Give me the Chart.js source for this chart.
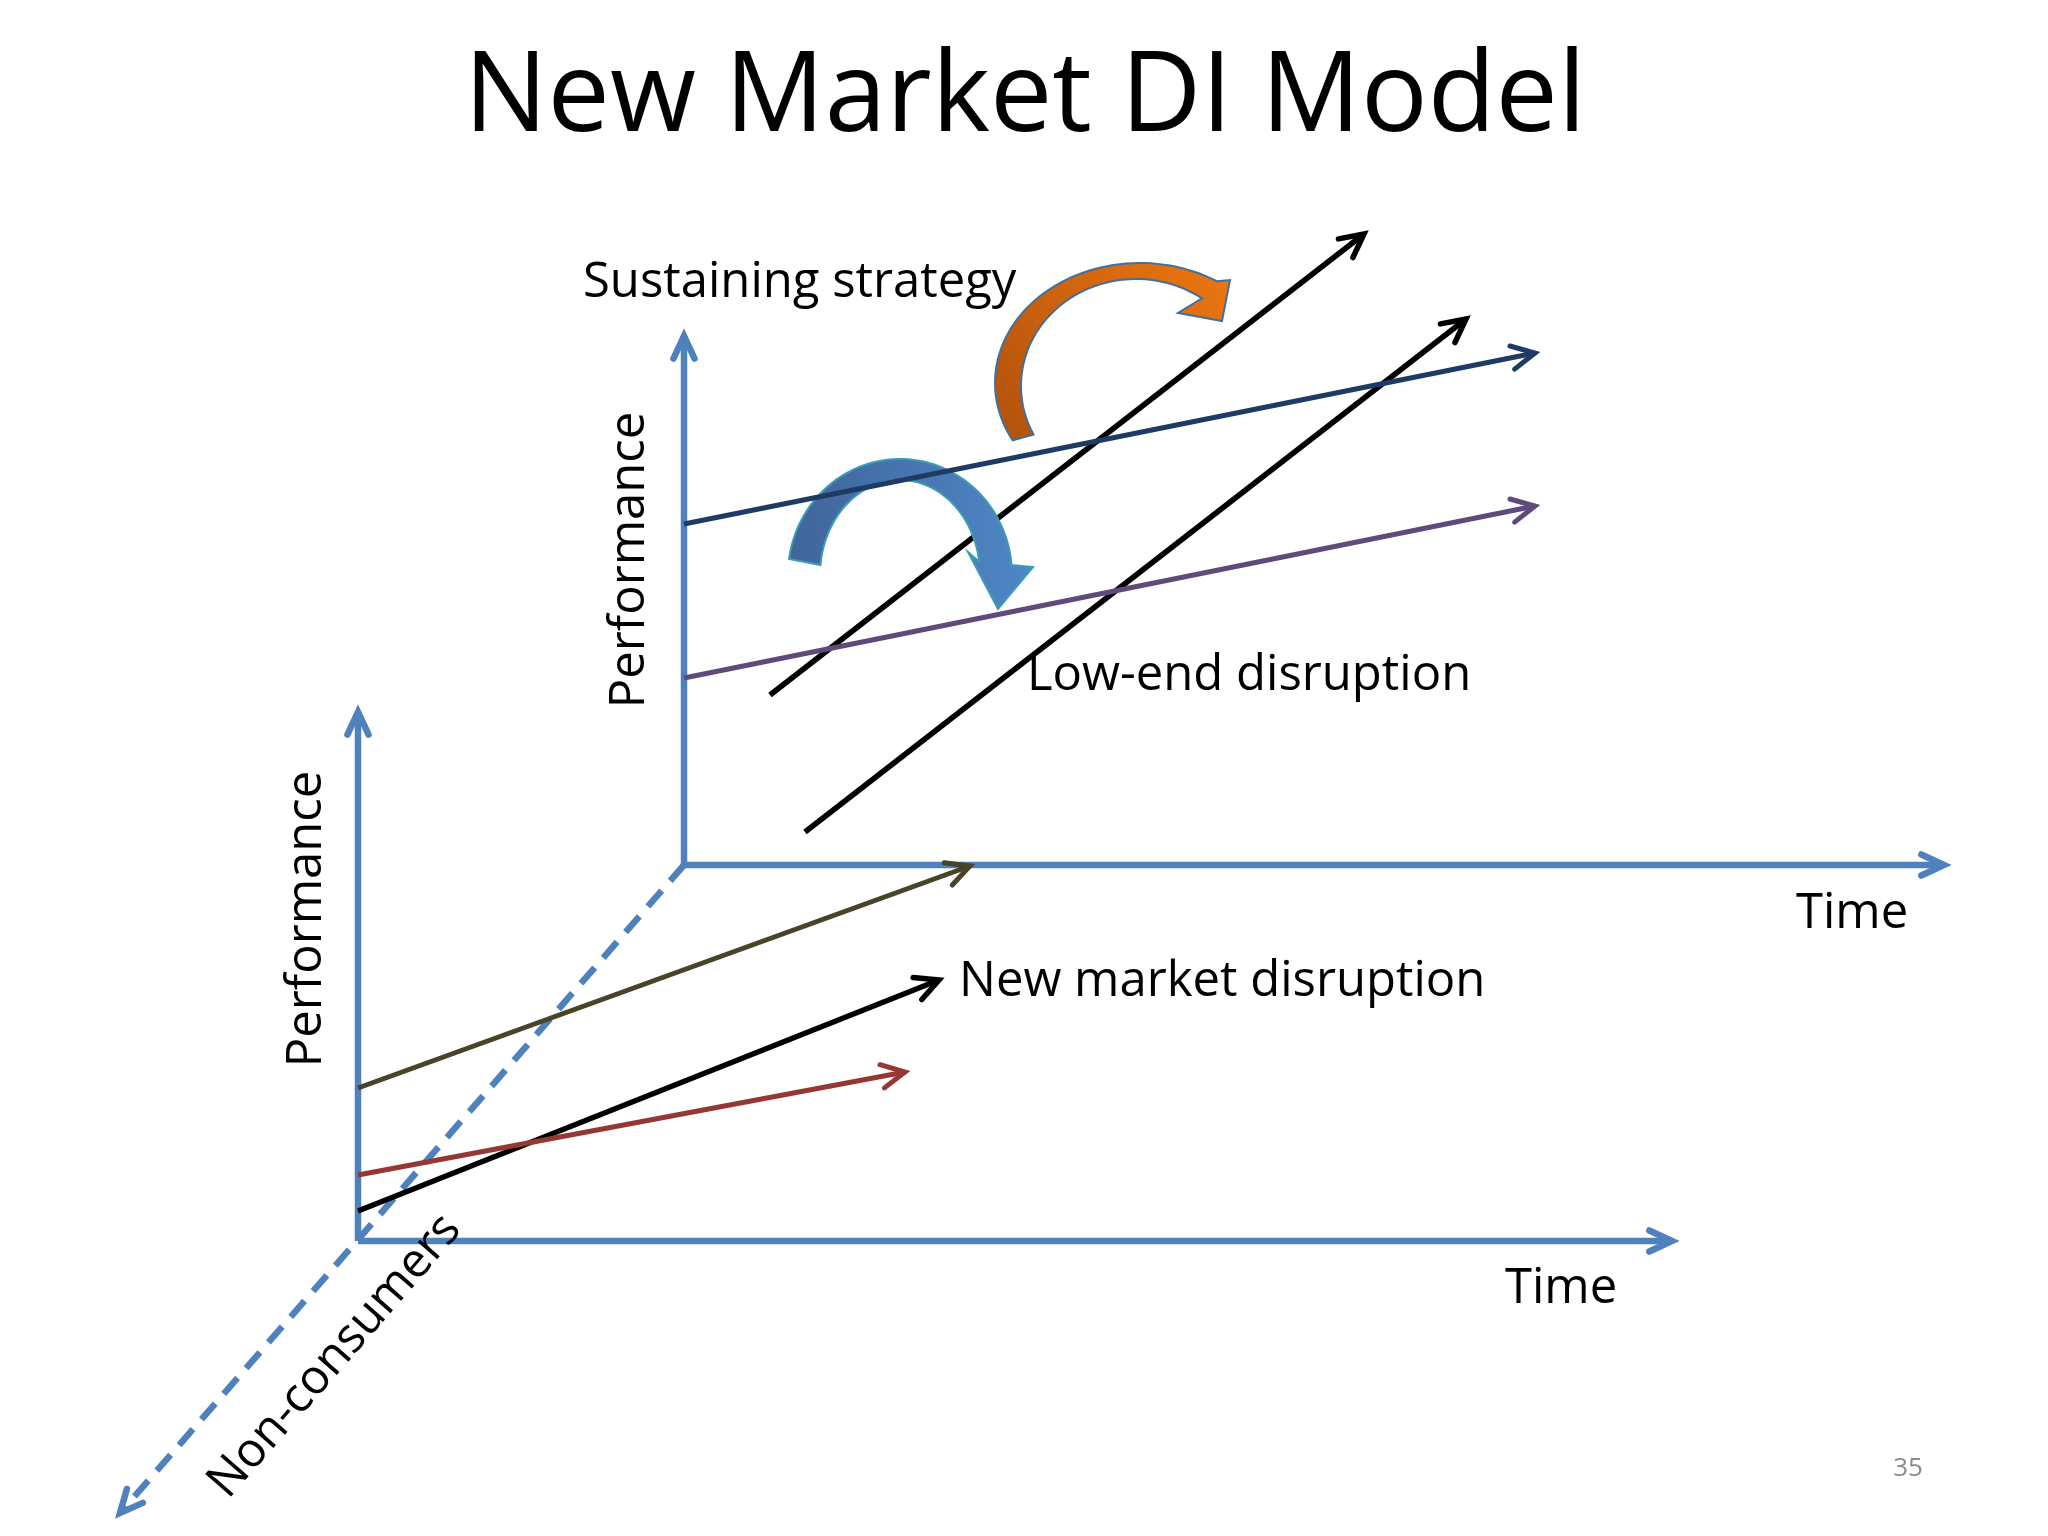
<!DOCTYPE html>
<html>
<head>
<meta charset="utf-8">
<script src="https://cdn.jsdelivr.net/npm/chart.js"></script>
<style>
  html, body { margin: 0; padding: 0; background: #fff; overflow: hidden; }
  #wrap { width: 2048px; height: 1536px; position: relative; }
</style>
</head>
<body>
<div id="wrap"><canvas id="diagram"></canvas></div>
<script>
// diagram space: x 0..2048 left to right, y 0..1536 top to bottom

// axes
const upperPerfAxis = [[684, 865], [684, 336]];
const upperTimeAxis = [[684, 865], [1944, 865]];
const lowerPerfAxis = [[358, 1241], [358, 712]];
const lowerTimeAxis = [[358, 1241], [1672, 1241]];
const nonConsumerAxis = [[684, 865], [120, 1513]];

// trajectories
const sustainHigh = [[684, 524], [1535, 353]];
const sustainLow = [[684, 678], [1535, 506]];
const lowEndA = [[770, 695], [1364, 234]];
const lowEndB = [[805, 832], [1466, 319]];
const newMktUpper = [[358, 1088], [970, 866]];
const newMktEntrant = [[358, 1211], [939, 980]];
const newMktLower = [[358, 1175], [905, 1072]];

// curved arrows: ellipse edges [cx, cy, rx, ry, startDeg, endDeg], head [outer barb, tip, inner barb]
const orangeOuter = [1140, 383, 145, 120, 151.5, 302];
const orangeInner = [1136, 386, 115, 107, 153, 305];
const orangeHead = [[1230, 280], [1222, 321], [1178, 313]];
const blueOuter = [900, 575, 112, 116, 188, 355];
const blueInner = [900, 575, 80, 95, 186, 352];
const blueHead = [[1033, 567], [998, 609], [968, 552]];

const AXIS = '#4f81bd';

function seg(pts) { return pts.map(p => ({ x: p[0], y: p[1] })); }

function line(pts, color, width, extra) {
  return Object.assign({
    data: seg(pts),
    showLine: true,
    borderColor: color,
    backgroundColor: color,
    borderWidth: width,
    pointRadius: 0,
    pointHoverRadius: 0,
    tension: 0,
    clip: false,
    arrowLen: 26,
    arrowAng: 27
  }, extra || {});
}

const labels = [
  { t: 'New Market DI Model', x: 1025, y: 131, size: 111, align: 'center' },
  { t: 'Sustaining strategy', x: 583, y: 297, size: 49 },
  { t: 'Performance', x: 644, y: 560, size: 49, rot: -90, align: 'center' },
  { t: 'Low-end disruption', x: 1027, y: 690, size: 49 },
  { t: 'Time', x: 1796, y: 928, size: 49 },
  { t: 'New market disruption', x: 959, y: 996, size: 49 },
  { t: 'Performance', x: 321, y: 919, size: 49, rot: -90, align: 'center' },
  { t: 'Time', x: 1505, y: 1303, size: 49 },
  { t: 'Non-consumers', x: 228, y: 1500, size: 48, rot: -49 },
  { t: '35', x: 1908, y: 1476, size: 26, color: '#8c8c8c', align: 'center' }
];

function drawCurved(chart, outer, inner, head, c0, c1, edge) {
  const sx = chart.scales.x, sy = chart.scales.y;
  const P = (x, y) => [sx.getPixelForValue(x), sy.getPixelForValue(y)];
  const arc = (e, rev) => {
    const out = [];
    for (let i = 0; i <= 60; i++) {
      const t = rev ? 1 - i / 60 : i / 60;
      const a = (e[4] + (e[5] - e[4]) * t) * Math.PI / 180;
      out.push(P(e[0] + e[2] * Math.cos(a), e[1] + e[3] * Math.sin(a)));
    }
    return out;
  };
  const pts = arc(outer, false)
    .concat(head.map(h => P(h[0], h[1])))
    .concat(arc(inner, true));
  const ctx = chart.ctx;
  ctx.save();
  const a = pts[0], b = pts[61];
  const g = ctx.createLinearGradient(a[0], a[1], b[0], b[1]);
  g.addColorStop(0, c0);
  g.addColorStop(1, c1);
  ctx.beginPath();
  pts.forEach((p, i) => i ? ctx.lineTo(p[0], p[1]) : ctx.moveTo(p[0], p[1]));
  ctx.closePath();
  ctx.fillStyle = g;
  ctx.fill();
  ctx.lineWidth = 2;
  ctx.strokeStyle = edge;
  ctx.lineJoin = 'miter';
  ctx.stroke();
  ctx.restore();
}

const diagramPlugin = {
  id: 'diagram',
  beforeDraw(chart) {
    const ctx = chart.ctx;
    ctx.save();
    ctx.fillStyle = '#ffffff';
    ctx.fillRect(0, 0, chart.width, chart.height);
    ctx.restore();
  },
  afterDatasetDraw(chart, args) {
    const ds = chart.data.datasets[args.index];
    const el = args.meta.data;
    const ctx = chart.ctx;
    if (ds.arrowLen && el.length > 1) {
      const p0 = el[el.length - 2], p1 = el[el.length - 1];
      const a = Math.atan2(p1.y - p0.y, p1.x - p0.x);
      const w = ds.arrowAng * Math.PI / 180;
      ctx.save();
      ctx.setLineDash([]);
      ctx.strokeStyle = ds.borderColor;
      ctx.lineWidth = ds.borderWidth;
      ctx.lineCap = 'round';
      ctx.lineJoin = 'miter';
      ctx.beginPath();
      ctx.moveTo(p1.x - ds.arrowLen * Math.cos(a - w), p1.y - ds.arrowLen * Math.sin(a - w));
      ctx.lineTo(p1.x, p1.y);
      ctx.lineTo(p1.x - ds.arrowLen * Math.cos(a + w), p1.y - ds.arrowLen * Math.sin(a + w));
      ctx.stroke();
      ctx.restore();
    }
    if (ds.curvesAfter) {
      drawCurved(chart, orangeOuter, orangeInner, orangeHead, '#b5530c', '#ea760f', '#41709c');
      drawCurved(chart, blueOuter, blueInner, blueHead, '#40659a', '#4f87c7', '#3a9db3');
    }
  },
  afterDatasetsDraw(chart) {
    const sx = chart.scales.x, sy = chart.scales.y;
    const ctx = chart.ctx;
    labels.forEach(l => {
      ctx.save();
      ctx.translate(sx.getPixelForValue(l.x), sy.getPixelForValue(l.y));
      if (l.rot) ctx.rotate(l.rot * Math.PI / 180);
      ctx.font = l.size + 'px "Open Sans", "DejaVu Sans", sans-serif';
      ctx.fillStyle = l.color || '#000000';
      ctx.textAlign = l.align || 'left';
      ctx.textBaseline = 'alphabetic';
      ctx.fillText(l.t, 0, 0);
      ctx.restore();
    });
  }
};

function build() {
  new Chart(document.getElementById('diagram'), {
    type: 'scatter',
    data: {
      datasets: [
        line(sustainHigh, '#1f3b63', 5),
        line(sustainLow, '#604a7b', 5),
        line(lowEndA, '#000000', 5.5, { curvesAfter: true }),
        line(lowEndB, '#000000', 5.5),
        line(newMktUpper, '#474428', 5),
        line(newMktLower, '#953735', 5),
        line(newMktEntrant, '#000000', 5.5),
        line(upperPerfAxis, AXIS, 6.5, { arrowLen: 25, arrowAng: 25 }),
        line(upperTimeAxis, AXIS, 6.5, { arrowLen: 25, arrowAng: 25 }),
        line(lowerPerfAxis, AXIS, 6.5, { arrowLen: 25, arrowAng: 25 }),
        line(lowerTimeAxis, AXIS, 6.5, { arrowLen: 25, arrowAng: 25 }),
        line(nonConsumerAxis, AXIS, 6.5, { borderDash: [21, 13], arrowLen: 25, arrowAng: 25 })
      ]
    },
    options: {
      responsive: true,
      maintainAspectRatio: false,
      animation: false,
      events: [],
      layout: { padding: 0 },
      plugins: {
        legend: { display: false },
        tooltip: { enabled: false },
        title: { display: false }
      },
      scales: {
        x: { type: 'linear', min: 0, max: 2048, display: false },
        y: { type: 'linear', min: 0, max: 1536, reverse: true, display: false }
      }
    },
    plugins: [diagramPlugin]
  });
}

if (document.fonts && document.fonts.load) {
  document.fonts.load('49px "Open Sans"').then(build, build);
} else {
  build();
}
</script>
</body>
</html>
